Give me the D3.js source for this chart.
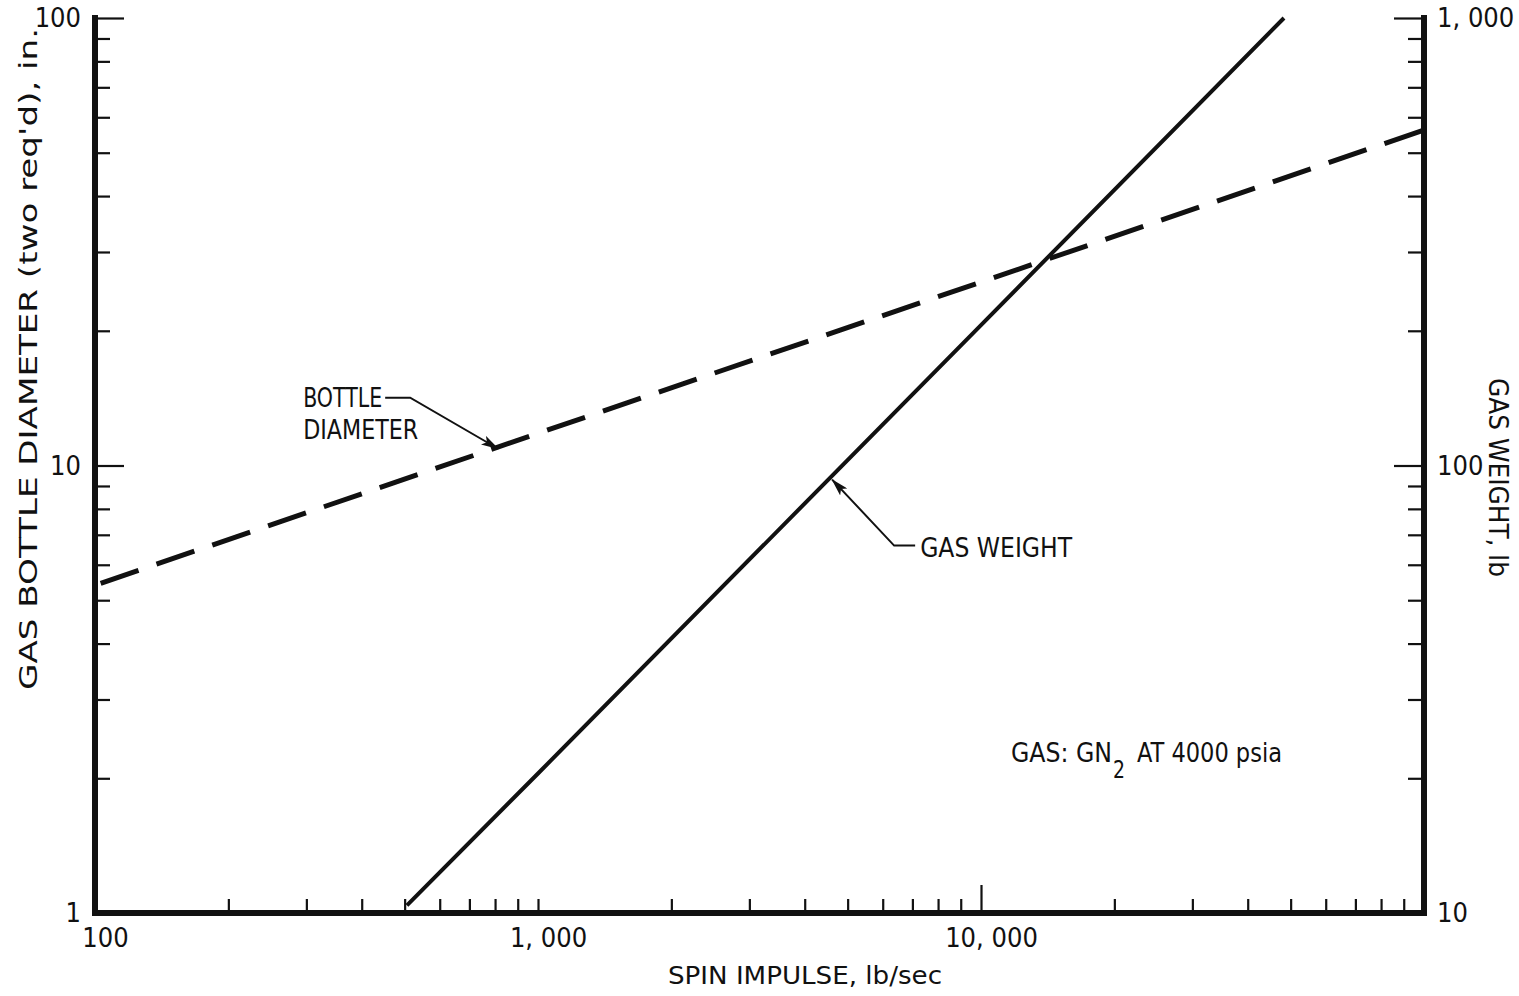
<!DOCTYPE html>
<html>
<head>
<meta charset="utf-8">
<script src="https://cdn.jsdelivr.net/npm/d3@7"></script>
<style>
  html, body { margin: 0; padding: 0; background: #fff; }
  svg { display: block; }
  text { font-family: "Liberation Sans Narrow", "DejaVu Sans Condensed", "Roboto Condensed", "Liberation Sans", sans-serif; fill: #111; }
</style>
</head>
<body>
<svg id="chart" width="1519" height="996"></svg>
<script>
// ---------------- data ----------------
const impulseDomain = [100, 100000];
const diameterDomain = [1, 100];
const weightDomain = [10, 1000];

// Bottle diameter (left axis, in.) vs spin impulse (lb/sec) - dashed
const diameterImpulse = [100, 1000, 10000, 100000];
const diameterValues  = [5.4, 11.8, 25.7, 56.2];

// Gas weight (right axis, lb) vs spin impulse - solid
const weightImpulse = [506, 1000, 10000, 48300];
const weightValues  = [10.4, 20.5, 206, 1000];

// ticks
const xMajorTicks = [10000];
const xMinorTicks = [200,300,400,500,600,700,800,900,1000,
                     2000,3000,4000,5000,6000,7000,8000,9000,
                     20000,30000,40000,50000,60000,70000,80000,90000];
const xTickLabels = [100, 1000, 10000];
const yLeftMajor = [10, 100];
const yLeftMinor = [2,3,4,5,6,7,8,9,20,30,40,50,60,70,80,90];
const yLeftLabels = [1, 10, 100];
const yRightMajor = [100, 1000];
const yRightMinor = [20,30,40,50,60,70,80,90,200,300,400,500,600,700,800,900];
const yRightLabels = [10, 100, 1000];

// ---------------- layout ----------------
const svg = d3.select("#chart");
const L = 95, R = 1424, T = 18, B = 913;

const x = d3.scaleLog().domain(impulseDomain).range([L, R]);
const yL = d3.scaleLog().domain(diameterDomain).range([B, T]);
const yR = d3.scaleLog().domain(weightDomain).range([B, T]);

const fmt = d => d3.format(",")(d).replace(",", ", ");

function styleAxis(g, fontSize) {
  g.select(".domain").remove();
  g.selectAll(".tick line").attr("stroke", "#111").attr("stroke-width", 2.2);
  g.selectAll(".tick text").attr("font-size", fontSize).attr("fill", "#111");
  g.attr("font-family", null).attr("font-size", null);
}

// bottom axis
svg.append("g").attr("transform", `translate(0,${B})`)
  .call(d3.axisBottom(x).tickValues(xMinorTicks).tickSize(-14).tickFormat(""))
  .call(g => styleAxis(g, 27));
svg.append("g").attr("transform", `translate(0,${B})`)
  .call(d3.axisBottom(x).tickValues(xMajorTicks).tickSize(-28).tickFormat(""))
  .call(g => styleAxis(g, 27));
svg.append("g").attr("transform", `translate(0,${B})`)
  .call(d3.axisBottom(x).tickValues(xTickLabels).tickSize(0).tickPadding(15).tickFormat(fmt))
  .call(g => styleAxis(g, 27))
  .call(g => g.selectAll(".tick text").attr("dx", 10));

// left axis
svg.append("g").attr("transform", `translate(${L},0)`)
  .call(d3.axisLeft(yL).tickValues(yLeftMinor).tickSize(-15).tickFormat(""))
  .call(g => styleAxis(g, 27));
svg.append("g").attr("transform", `translate(${L},0)`)
  .call(d3.axisLeft(yL).tickValues(yLeftMajor).tickSize(-29).tickFormat(""))
  .call(g => styleAxis(g, 27));
svg.append("g").attr("transform", `translate(${L},0)`)
  .call(d3.axisLeft(yL).tickValues(yLeftLabels).tickSize(0).tickPadding(14).tickFormat(fmt))
  .call(g => styleAxis(g, 27))
  .call(g => g.selectAll(".tick text").attr("dy", "0.32em"));

// right axis
svg.append("g").attr("transform", `translate(${R},0)`)
  .call(d3.axisRight(yR).tickValues(yRightMinor).tickSize(-16).tickFormat(""))
  .call(g => styleAxis(g, 27));
svg.append("g").attr("transform", `translate(${R},0)`)
  .call(d3.axisRight(yR).tickValues(yRightMajor).tickSize(-30).tickFormat(""))
  .call(g => styleAxis(g, 27));
svg.append("g").attr("transform", `translate(${R},0)`)
  .call(d3.axisRight(yR).tickValues(yRightLabels).tickSize(0).tickPadding(13).tickFormat(fmt))
  .call(g => styleAxis(g, 27))
  .call(g => g.selectAll(".tick text").attr("dy", "0.32em"));

// clip
svg.append("defs").append("clipPath").attr("id", "plot")
  .append("rect").attr("x", L).attr("y", T - 2).attr("width", R - L).attr("height", B - T + 2);

// arrow marker
svg.select("defs").append("marker")
  .attr("id", "arrow").attr("viewBox", "0 0 18 10").attr("refX", 17).attr("refY", 5)
  .attr("markerWidth", 18).attr("markerHeight", 10).attr("markerUnits", "userSpaceOnUse")
  .attr("orient", "auto")
  .append("path").attr("d", "M0,0 L18,5 L0,10 L4,5 Z").attr("fill", "#111");

// dashed diameter line
const diamData = diameterImpulse.map((d, i) => [d, diameterValues[i]]);
svg.append("path")
  .datum(diamData)
  .attr("clip-path", "url(#plot)")
  .attr("fill", "none").attr("stroke", "#111").attr("stroke-width", 5)
  .attr("stroke-dasharray", "40 19").attr("stroke-dashoffset", -6)
  .attr("d", d3.line().x(d => x(d[0])).y(d => yL(d[1])));

// solid weight line
const wData = weightImpulse.map((d, i) => [d, weightValues[i]]);
svg.append("path")
  .datum(wData)
  .attr("fill", "none").attr("stroke", "#111").attr("stroke-width", 4)
  .attr("d", d3.line().x(d => x(d[0])).y(d => yR(d[1])));

// frame (left, bottom, right)
svg.append("path")
  .attr("d", `M${L},${T} L${L},${B} L${R},${B} L${R},${T}`)
  .attr("fill", "none").attr("stroke", "#111").attr("stroke-width", 6)
  .attr("stroke-linejoin", "miter").attr("stroke-linecap", "square");

// ---------------- annotations ----------------
function txt(str, px, py, len, size, extra) {
  const t = svg.append("text").attr("x", px).attr("y", py).attr("font-size", size).text(str);
  if (len) t.attr("textLength", len).attr("lengthAdjust", "spacingAndGlyphs");
  if (extra) extra(t);
  return t;
}

// bottle diameter arrow: tip on the dashed line
const bTipX = x(813), bTipY = yL(10.9);
svg.append("path")
  .attr("d", `M${bTipX - 113},${bTipY - 51} L${bTipX - 88},${bTipY - 51} L${bTipX},${bTipY}`)
  .attr("fill", "none").attr("stroke", "#111").attr("stroke-width", 2)
  .attr("marker-end", "url(#arrow)");
txt("BOTTLE", bTipX - 195, bTipY - 42, 79, 26);
txt("DIAMETER", bTipX - 195, bTipY - 10, 115, 26);

// gas weight arrow
const gTipX = x(4613), gTipY = yR(93);
svg.append("path")
  .attr("d", `M${gTipX + 83},${gTipY + 66} L${gTipX + 62},${gTipY + 66} L${gTipX},${gTipY}`)
  .attr("fill", "none").attr("stroke", "#111").attr("stroke-width", 2)
  .attr("marker-end", "url(#arrow)");
txt("GAS WEIGHT", gTipX + 88, gTipY + 77, 152, 27);

// gas note
txt("GAS: GN", 1011, 762, 101, 27);
txt("2", 1113, 778, 12, 25);
txt("AT 4000 psia", 1137, 762, 145, 27);

// axis titles
txt("SPIN IMPULSE,  lb/sec", 668, 984, 274, 25);
txt("GAS BOTTLE DIAMETER (two req'd),  in.", 0, 0, 662, 25,
    t => t.attr("transform", `translate(37,${690}) rotate(-90)`));
txt("GAS WEIGHT,  lb", 0, 0, 199, 26,
    t => t.attr("transform", `translate(1489,${378}) rotate(90)`));
</script>
</body>
</html>
